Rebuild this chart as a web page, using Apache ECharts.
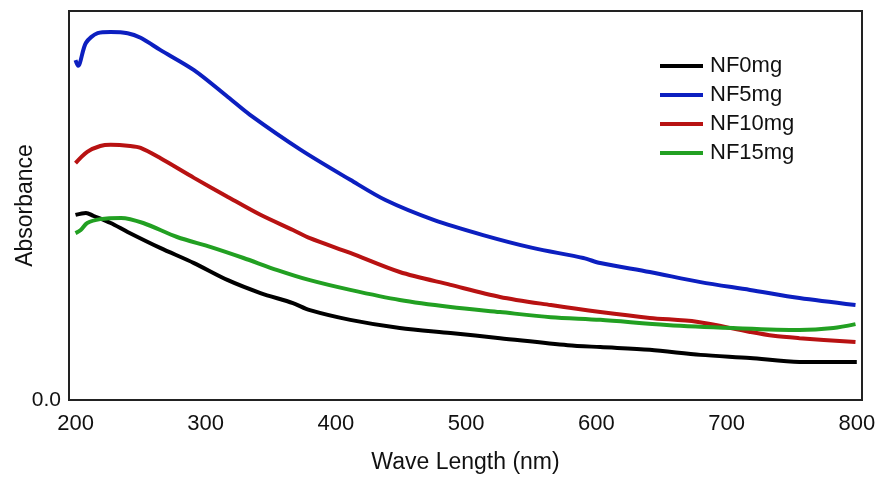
<!DOCTYPE html>
<html>
<head>
<meta charset="utf-8">
<script src="https://cdn.jsdelivr.net/npm/echarts@6/dist/echarts.min.js"></script>
<style>
	html, body { margin: 0; padding: 0; background: #fff; }
	#chart { width: 877px; height: 479px; }
</style>
</head>
<body>
<div id="chart"></div>
<script>
// absorbance spectra, [wave length nm, absorbance]
var nf0 = [
	[200, 0.476], [208, 0.481], [214, 0.473], [227, 0.455], [240, 0.432], [265, 0.391],
	[291, 0.352], [317, 0.308], [342, 0.275], [367, 0.249], [380, 0.231], [411, 0.206],
	[449, 0.185], [488, 0.172], [526, 0.159], [578, 0.141], [603, 0.136], [641, 0.129],
	[680, 0.116], [718, 0.108], [756, 0.098], [800, 0.098]
];
var nf5 = [
	[200, 0.874], [202, 0.859], [208, 0.918], [217, 0.943], [227, 0.946], [240, 0.943],
	[250, 0.931], [265, 0.900], [291, 0.848], [317, 0.779], [334, 0.733], [373, 0.643],
	[411, 0.566], [438, 0.514], [475, 0.463], [513, 0.424], [551, 0.391], [590, 0.365],
	[603, 0.352], [641, 0.329], [680, 0.303], [718, 0.283], [756, 0.262], [799, 0.244]
];
var nf10 = [
	[200, 0.609], [209, 0.638], [219, 0.653], [227, 0.656], [242, 0.653], [250, 0.648],
	[265, 0.622], [291, 0.571], [317, 0.522], [342, 0.476], [367, 0.437], [380, 0.416],
	[411, 0.378], [449, 0.329], [488, 0.296], [526, 0.265], [565, 0.244], [603, 0.226],
	[641, 0.211], [677, 0.201], [718, 0.175], [736, 0.165], [756, 0.159], [799, 0.149]
];
var nf15 = [
	[200, 0.429], [204, 0.437], [209, 0.455], [219, 0.465], [235, 0.468], [252, 0.455],
	[278, 0.419], [304, 0.393], [329, 0.365], [355, 0.334], [380, 0.308], [411, 0.283],
	[449, 0.257], [488, 0.239], [526, 0.226], [565, 0.213], [603, 0.206], [654, 0.193],
	[705, 0.185], [756, 0.180], [782, 0.185], [799, 0.195]
];

var seriesNames = ["NF0mg", "NF5mg", "NF10mg", "NF15mg"];
var seriesData = [nf0, nf5, nf10, nf15];
var seriesColors = ["#000000", "#0c1fc0", "#b81212", "#22a022"];

var xTicks = [200, 300, 400, 500, 600, 700, 800];
var yTicks = [0];

var fontFamily = "'Liberation Sans', Arial, sans-serif",
	myChart = echarts.init(document.getElementById("chart"), null, { renderer: "canvas" }),
	series = [],
	i;

for (i = 0; i < seriesNames.length; i++)
{
	series.push({
		name: seriesNames[i],
		type: "line",
		data: seriesData[i],
		showSymbol: false,
		smooth: 0.3,
		color: seriesColors[i],
		lineStyle: {
			width: 4,
			color: seriesColors[i]
		}
	});
}

var option = {
	animation: false,
	backgroundColor: "#fff",
	grid: {
		left: 69,
		right: 15,
		top: 11,
		bottom: 79,
		outerBoundsMode: "none",
		containLabel: false,
		show: true,
		borderColor: "#222",
		borderWidth: 2
	},
	legend: {
		data: seriesNames,
		orient: "vertical",
		left: 655,
		top: 50,
		icon: "rect",
		itemWidth: 43,
		itemHeight: 4,
		itemGap: 7,
		textStyle: {
			fontFamily: fontFamily,
			fontSize: 22,
			lineHeight: 22,
			color: "#111",
			padding: [0, 0, 0, 2]
		}
	},
	xAxis: {
		type: "value",
		min: 195,
		max: 804,
		name: "Wave Length (nm)",
		nameLocation: "middle",
		nameGap: 51,
		nameMoveOverlap: false,
		nameTextStyle: {
			fontFamily: fontFamily,
			fontSize: 23,
			color: "#111"
		},
		axisLine: { show: true, lineStyle: { color: "#222", width: 2 } },
		axisTick: { show: false },
		splitLine: { show: false },
		axisLabel: {
			customValues: xTicks,
			margin: 13,
			fontFamily: fontFamily,
			fontSize: 22,
			color: "#111"
		}
	},
	yAxis: {
		type: "value",
		min: 0,
		max: 1,
		name: "Absorbance",
		nameLocation: "middle",
		nameGap: 32,
		nameMoveOverlap: false,
		nameTextStyle: {
			fontFamily: fontFamily,
			fontSize: 23,
			color: "#111"
		},
		axisLine: { show: true, lineStyle: { color: "#222", width: 2 } },
		axisTick: { show: false },
		splitLine: { show: false },
		axisLabel: {
			customValues: yTicks,
			margin: 8,
			fontFamily: fontFamily,
			fontSize: 21,
			color: "#111",
			formatter: function (v) {
				return v.toFixed(1);
			}
		}
	},
	series: series
};

myChart.setOption(option);
</script>
</body>
</html>
